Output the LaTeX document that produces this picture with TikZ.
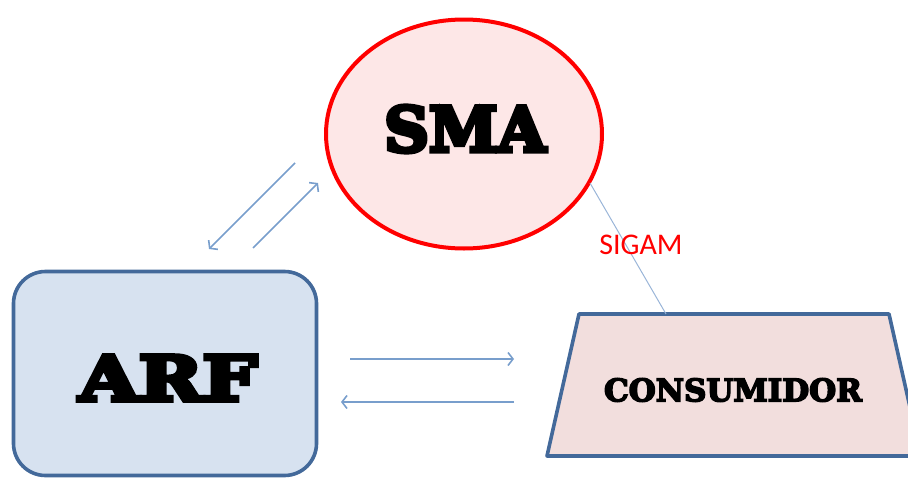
\documentclass[tikz,border=0pt]{standalone}
\usepackage{fontspec}
\usetikzlibrary{shapes.geometric,arrows.meta}
\newfontfamily\heavyfont[FakeBold=7]{DejaVu Serif Bold}
\newfontfamily\medheavyfont[FakeBold=5]{DejaVu Serif Bold}
\newfontfamily\calfont{Carlito}
\definecolor{smafill}{HTML}{FDE7E7}
\definecolor{smared}{HTML}{FF0000}
\definecolor{arffill}{HTML}{D7E2F0}
\definecolor{boxline}{HTML}{43699A}
\definecolor{consfill}{HTML}{F2DEDD}
\definecolor{arrowblue}{HTML}{789ECC}
\definecolor{sigline}{HTML}{9AB5D8}
\tikzset{
  flow/.style={draw=arrowblue, line width=1.6pt, -{Straight Barb[length=5pt,width=13pt,line width=1.6pt]}},
  bigtext/.style={font=\heavyfont\fontsize{62}{70}\selectfont},
  boxstyle/.style={draw=boxline, line width=3.6pt},
}
\begin{document}
\begin{tikzpicture}[x=1pt,y=-1pt]
\useasboundingbox (0,0) rectangle (908,479);
% SMA
\node[ellipse, draw=smared, fill=smafill, line width=4pt, inner sep=0pt,
      minimum width=276pt, minimum height=229pt] (sma) at (464,134) {};
\node[bigtext] (smatext) at (465,129) {SMA};
% ARF
\node[boxstyle, fill=arffill, rounded corners=32pt,
      minimum width=303pt, minimum height=204pt, inner sep=0pt] (arf) at (165,373.5) {};
\node[bigtext, xscale=1.24] (arftext) at (168,378) {ARF};
% CONSUMIDOR
\coordinate (tl) at (579,314);
\coordinate (tr) at (889,314);
\coordinate (br) at (921,456);
\coordinate (bl) at (547,456);
\draw[boxstyle, fill=consfill, line join=round] (tl) -- (tr) -- (br) -- (bl) -- cycle;
\node[font=\medheavyfont\fontsize{31}{34}\selectfont] (cons) at (733,390) {CONSUMIDOR};
% SIGAM link
\coordinate (s1) at (590,183);
\coordinate (c1) at (666,314);
\draw[sigline, line width=1pt] (s1) -- (c1);
\node[text=smared, font=\calfont\fontsize{30}{34}\selectfont] (sigam) at (641,245) {SIGAM};
% arrows between ARF and SMA
\coordinate (d1a) at (295,163);
\coordinate (d1b) at (209,249);
\coordinate (d2a) at (253,248);
\coordinate (d2b) at (318,183);
\draw[flow] (d1a) -- (d1b);
\draw[flow] (d2a) -- (d2b);
% arrows between ARF and CONSUMIDOR
\coordinate (h1a) at (350,359);
\coordinate (h1b) at (514,359);
\coordinate (h2a) at (514,402);
\coordinate (h2b) at (341,402);
\draw[flow] (h1a) -- (h1b);
\draw[flow] (h2a) -- (h2b);
\end{tikzpicture}
\end{document}
